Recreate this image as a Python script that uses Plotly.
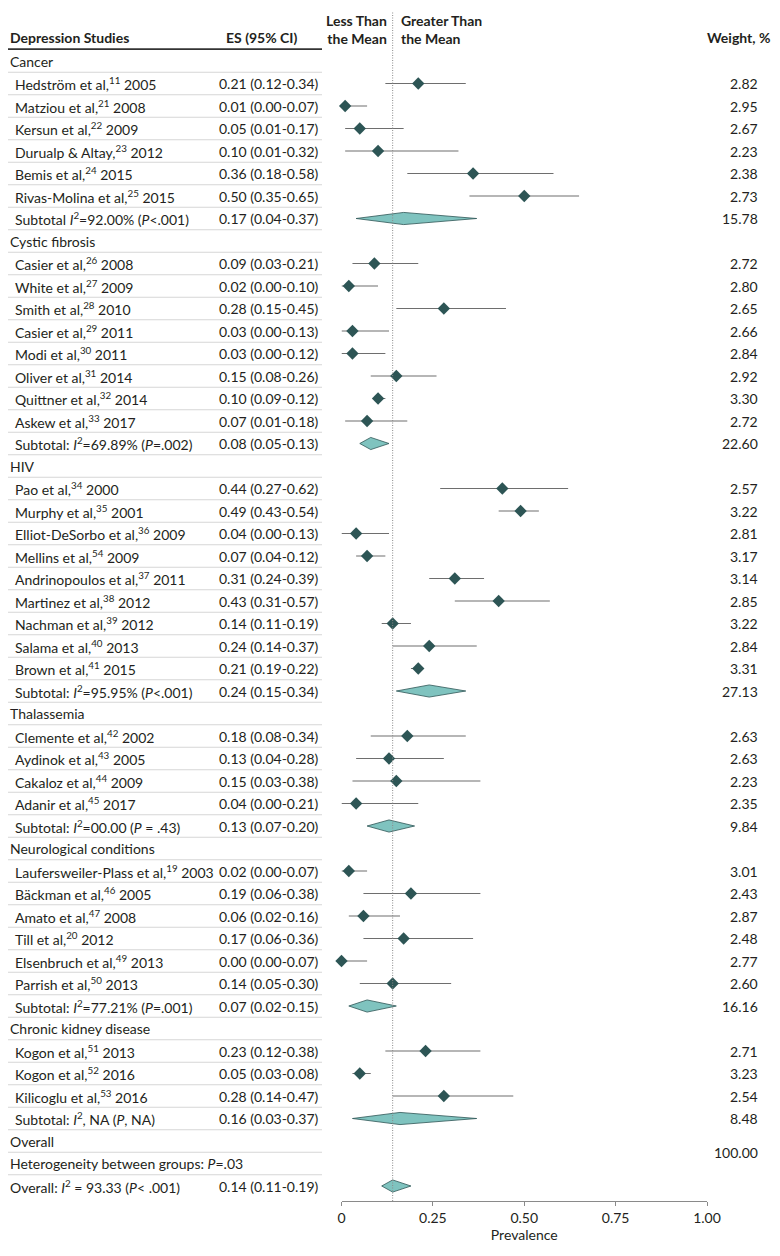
import plotly.graph_objects as go

# ---------------- data ----------------
groups = ["Cancer", "Cystic fibrosis", "HIV", "Thalassemia",
          "Neurological conditions", "Chronic kidney disease"]

study_authors = [
    ["Hedström et al", "Matziou et al", "Kersun et al", "Durualp & Altay", "Bemis et al", "Rivas-Molina et al"],
    ["Casier et al", "White et al", "Smith et al", "Casier et al", "Modi et al", "Oliver et al", "Quittner et al", "Askew et al"],
    ["Pao et al", "Murphy et al", "Elliot-DeSorbo et al", "Mellins et al", "Andrinopoulos et al", "Martinez et al", "Nachman et al", "Salama et al", "Brown et al"],
    ["Clemente et al", "Aydinok et al", "Cakaloz et al", "Adanir et al"],
    ["Laufersweiler-Plass et al", "Bäckman et al", "Amato et al", "Till et al", "Elsenbruch et al", "Parrish et al"],
    ["Kogon et al", "Kogon et al", "Kilicoglu et al"],
]
study_refs = [
    [11, 21, 22, 23, 24, 25],
    [26, 27, 28, 29, 30, 31, 32, 33],
    [34, 35, 36, 54, 37, 38, 39, 40, 41],
    [42, 43, 44, 45],
    [19, 46, 47, 20, 49, 50],
    [51, 52, 53],
]
study_years = [
    [2005, 2008, 2009, 2012, 2015, 2015],
    [2008, 2009, 2010, 2011, 2011, 2014, 2014, 2017],
    [2000, 2001, 2009, 2009, 2011, 2012, 2012, 2013, 2015],
    [2002, 2005, 2009, 2017],
    [2003, 2005, 2008, 2012, 2013, 2013],
    [2013, 2016, 2016],
]
study_es = [
    [0.21, 0.01, 0.05, 0.10, 0.36, 0.50],
    [0.09, 0.02, 0.28, 0.03, 0.03, 0.15, 0.10, 0.07],
    [0.44, 0.49, 0.04, 0.07, 0.31, 0.43, 0.14, 0.24, 0.21],
    [0.18, 0.13, 0.15, 0.04],
    [0.02, 0.19, 0.06, 0.17, 0.00, 0.14],
    [0.23, 0.05, 0.28],
]
study_lo = [
    [0.12, 0.00, 0.01, 0.01, 0.18, 0.35],
    [0.03, 0.00, 0.15, 0.00, 0.00, 0.08, 0.09, 0.01],
    [0.27, 0.43, 0.00, 0.04, 0.24, 0.31, 0.11, 0.14, 0.19],
    [0.08, 0.04, 0.03, 0.00],
    [0.00, 0.06, 0.02, 0.06, 0.00, 0.05],
    [0.12, 0.03, 0.14],
]
study_hi = [
    [0.34, 0.07, 0.17, 0.32, 0.58, 0.65],
    [0.21, 0.10, 0.45, 0.13, 0.12, 0.26, 0.12, 0.18],
    [0.62, 0.54, 0.13, 0.12, 0.39, 0.57, 0.19, 0.37, 0.22],
    [0.34, 0.28, 0.38, 0.21],
    [0.07, 0.38, 0.16, 0.36, 0.07, 0.30],
    [0.38, 0.08, 0.47],
]
study_weights = [
    ["2.82", "2.95", "2.67", "2.23", "2.38", "2.73"],
    ["2.72", "2.80", "2.65", "2.66", "2.84", "2.92", "3.30", "2.72"],
    ["2.57", "3.22", "2.81", "3.17", "3.14", "2.85", "3.22", "2.84", "3.31"],
    ["2.63", "2.63", "2.23", "2.35"],
    ["3.01", "2.43", "2.87", "2.48", "2.77", "2.60"],
    ["2.71", "3.23", "2.54"],
]
subtotal_labels = [
    "Subtotal <i>I</i><sup>2</sup>=92.00% (<i>P</i>&lt;.001)",
    "Subtotal: <i>I</i><sup>2</sup>=69.89% (<i>P</i>=.002)",
    "Subtotal: <i>I</i><sup>2</sup>=95.95% (<i>P</i>&lt;.001)",
    "Subtotal: <i>I</i><sup>2</sup>=00.00 (<i>P</i> = .43)",
    "Subtotal: <i>I</i><sup>2</sup>=77.21% (<i>P</i>=.001)",
    "Subtotal: <i>I</i><sup>2</sup>, NA (<i>P</i>, NA)",
]
subtotal_es = [0.17, 0.08, 0.24, 0.13, 0.07, 0.16]
subtotal_lo = [0.04, 0.05, 0.15, 0.07, 0.02, 0.03]
subtotal_hi = [0.37, 0.13, 0.34, 0.20, 0.15, 0.37]
subtotal_weights = ["15.78", "22.60", "27.13", "9.84", "16.16", "8.48"]

overall_label = "Overall: <i>I</i><sup>2</sup> = 93.33 (<i>P</i>&lt; .001)"
heterogeneity_label = "Heterogeneity between groups: <i>P</i>=.03"
overall_es, overall_lo, overall_hi = 0.14, 0.11, 0.19
overall_weight = "100.00"

tick_vals = [0, 0.25, 0.5, 0.75, 1.0]
tick_text = ["0", "0.25", "0.50", "0.75", "1.00"]

# ---------------- layout helpers ----------------
OFF = 8                      # default page body margin
W, H = 780 - 2 * OFF, 1256 - 2 * OFF
FONT = "Lato"
TXT = "#231f20"
DARK = "#2d5555"
LIGHT = "#7fc3bf"
CI_COL = "#6e6e6e"
FS = 14
PAD = 2                      # annotation inner padding

X0_PX, X1_PX = 341.5, 707.0       # x=0 and x=1 in page pixels
AXIS_PX = 1201.0                   # axis line page pixel
ROW1_PX, ROW_STEP = 61.0, 22.5     # first row centre, row spacing

def px_x(px):
    return min(max((px - OFF) / W, 0.0), 1.0)

def px_y(py):
    return 1 - (py - OFF) / H

y_bottom_row = (AXIS_PX - ROW1_PX) / ROW_STEP + 1
y_top_row = (OFF - ROW1_PX) / ROW_STEP + 1

fig = go.Figure()
annotations = []
shapes = []

def txt(x_px, row, text, anchor="left"):
    xp = x_px - PAD if anchor == "left" else x_px + PAD
    annotations.append(dict(
        x=px_x(xp), xref="paper", y=row, yref="y",
        text=text, showarrow=False, xanchor=anchor, yanchor="middle",
        font=dict(family=FONT, size=FS, color=TXT)))

def fmt_ci(es, lo, hi):
    return f"{es:.2f} ({lo:.2f}-{hi:.2f})"

def diamond(lo, es, hi, r, h=0.27):
    fig.add_trace(go.Scatter(
        x=[lo, es, hi, es, lo], y=[r, r - h, r, r + h, r],
        mode="lines", fill="toself", fillcolor=LIGHT,
        line=dict(color=DARK, width=0.8), hoverinfo="skip",
        showlegend=False, cliponaxis=False))

row = 1
st_x, st_y, st_lo, st_hi = [], [], [], []
for g in range(len(groups)):
    txt(3, row, groups[g])
    row += 1
    for i in range(len(study_authors[g])):
        label = f"{study_authors[g][i]},<sup>{study_refs[g][i]}</sup> {study_years[g][i]}"
        txt(15, row, label)
        txt(219, row, fmt_ci(study_es[g][i], study_lo[g][i], study_hi[g][i]))
        txt(758, row, study_weights[g][i], anchor="right")
        st_x.append(study_es[g][i]); st_y.append(row)
        st_lo.append(study_lo[g][i]); st_hi.append(study_hi[g][i])
        row += 1
    txt(15, row, subtotal_labels[g])
    txt(219, row, fmt_ci(subtotal_es[g], subtotal_lo[g], subtotal_hi[g]))
    txt(758, row, subtotal_weights[g], anchor="right")
    diamond(subtotal_lo[g], subtotal_es[g], subtotal_hi[g], row)
    row += 1

# Overall block
txt(3, row, "Overall")
overall_row = row
row += 1
txt(3, row, heterogeneity_label)
row += 1
txt(3, row, overall_label)
txt(219, row, fmt_ci(overall_es, overall_lo, overall_hi))
txt(758, overall_row + 0.5, overall_weight, anchor="right")
diamond(overall_lo, overall_es, overall_hi, row)
last_row = row

# study points with CI
fig.add_trace(go.Scatter(
    x=st_x, y=st_y, mode="markers",
    marker=dict(symbol="diamond", size=9.5, color=DARK),
    error_x=dict(type="data", symmetric=False,
                 array=[h_ - e for h_, e in zip(st_hi, st_x)],
                 arrayminus=[e - l for e, l in zip(st_x, st_lo)],
                 color=CI_COL, thickness=1.1, width=0),
    hoverinfo="skip", showlegend=False, cliponaxis=False))

# separators
for r in range(1, last_row):
    shapes.append(dict(type="line", xref="paper", yref="y",
                       x0=px_x(3), x1=px_x(322), y0=r + 0.5, y1=r + 0.5,
                       line=dict(color="#d6d6d6", width=1)))
shapes.append(dict(type="line", xref="paper", yref="y",
                   x0=px_x(OFF), x1=px_x(322), y0=0.47, y1=0.47,
                   line=dict(color="#333333", width=1.6)))

# dotted reference line at overall mean
shapes.append(dict(type="line", xref="x", yref="paper",
                   x0=overall_es, x1=overall_es, y0=px_y(AXIS_PX), y1=px_y(12),
                   line=dict(color="#8a8a8a", width=1, dash="1px,1.5px")))

# headers
def head(x_px, y_px, text, anchor, align):
    xp = x_px - PAD if anchor == "left" else x_px + PAD
    annotations.append(dict(
        x=px_x(xp), xref="paper", y=px_y(y_px), yref="paper",
        text=text, showarrow=False, xanchor=anchor, yanchor="middle", align=align,
        font=dict(family=FONT, size=FS, color=TXT)))

head(3, 38, "<b>Depression Studies</b>", "left", "left")
head(226, 38, "<b>ES (95% CI)</b>", "left", "left")
head(387, 29, "<b>Less Than</b><br><b>the Mean</b>", "right", "right")
head(401, 29, "<b>Greater Than</b><br><b>the Mean</b>", "left", "left")
head(775, 38, "<b>Weight, %</b>", "right", "right")

fig.update_layout(
    width=W, height=H, autosize=False,
    margin=dict(l=0, r=0, t=0, b=0),
    paper_bgcolor="white", plot_bgcolor="white",
    annotations=annotations, shapes=shapes,
    font=dict(family=FONT, size=FS, color=TXT),
    xaxis=dict(domain=[px_x(X0_PX), px_x(X1_PX)], range=[0, 1],
               showgrid=False, zeroline=False, showline=True,
               linecolor="#8a8a8a", linewidth=1,
               ticks="outside", ticklen=4, tickcolor="#8a8a8a",
               tickvals=tick_vals, ticktext=tick_text,
               tickfont=dict(family=FONT, size=FS, color=TXT),
               title=dict(text="Prevalence", standoff=4,
                          font=dict(family=FONT, size=FS, color=TXT)),
               automargin=False, fixedrange=True),
    yaxis=dict(domain=[px_y(AXIS_PX), 1], range=[y_bottom_row, y_top_row],
               visible=False, automargin=False, fixedrange=True),
)

fig.write_html("out.html")
